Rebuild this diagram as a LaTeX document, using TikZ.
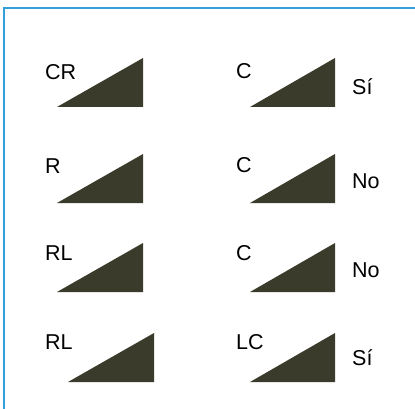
\documentclass[tikz,border=0pt]{standalone}
\usepackage{fontspec}
\setmainfont{Liberation Sans}
\usetikzlibrary{positioning}

\definecolor{framecol}{RGB}{52,160,219}
\definecolor{wedgecol}{RGB}{58,59,42}

\tikzset{
  wedge/.style={fill=wedgecol, draw=none},
  lbl/.style={anchor=base west, inner sep=0pt, font=\fontsize{21.5}{25}\selectfont}
}

\begin{document}
\begin{tikzpicture}[x=1pt, y=-1pt]

    \useasboundingbox (0,0) rectangle (415,409);

    % Frame
    \draw[framecol, line width=1.8pt] (4,409) -- (4,8) -- (415,8);

    % Draw the wedges
    \foreach \t/\xl in {58/57, 154/57, 243/57, 333/68}
      \fill[wedge] (\xl,\t+49) -- ++(86,0) -- ++(0,-49) -- cycle;
    \foreach \t in {58, 154, 243, 333}
      \fill[wedge] (250,\t+49) -- (335,\t+49) -- (335,\t) -- cycle;

    % Left labels
    \node[lbl] (l1) at (45, 80) {CR};
    \node[lbl] (l2) at (45, 174) {R};
    \node[lbl] (l3) at (45, 260) {RL};
    \node[lbl] (l4) at (45, 349) {RL};

    % Right labels
    \node[lbl] (r1) at (236, 79) {C};
    \node[lbl] (r2) at (236, 172) {C};
    \node[lbl] (r3) at (236, 260) {C};
    \node[lbl] (r4) at (236, 349) {LC};

    % Answers
    \node[lbl] (a1) at (352, 95) {Sí};
    \node[lbl] (a2) at (352, 189) {No};
    \node[lbl] (a3) at (352, 277) {No};
    \node[lbl] (a4) at (352, 365) {Sí};

\end{tikzpicture}
\end{document}
